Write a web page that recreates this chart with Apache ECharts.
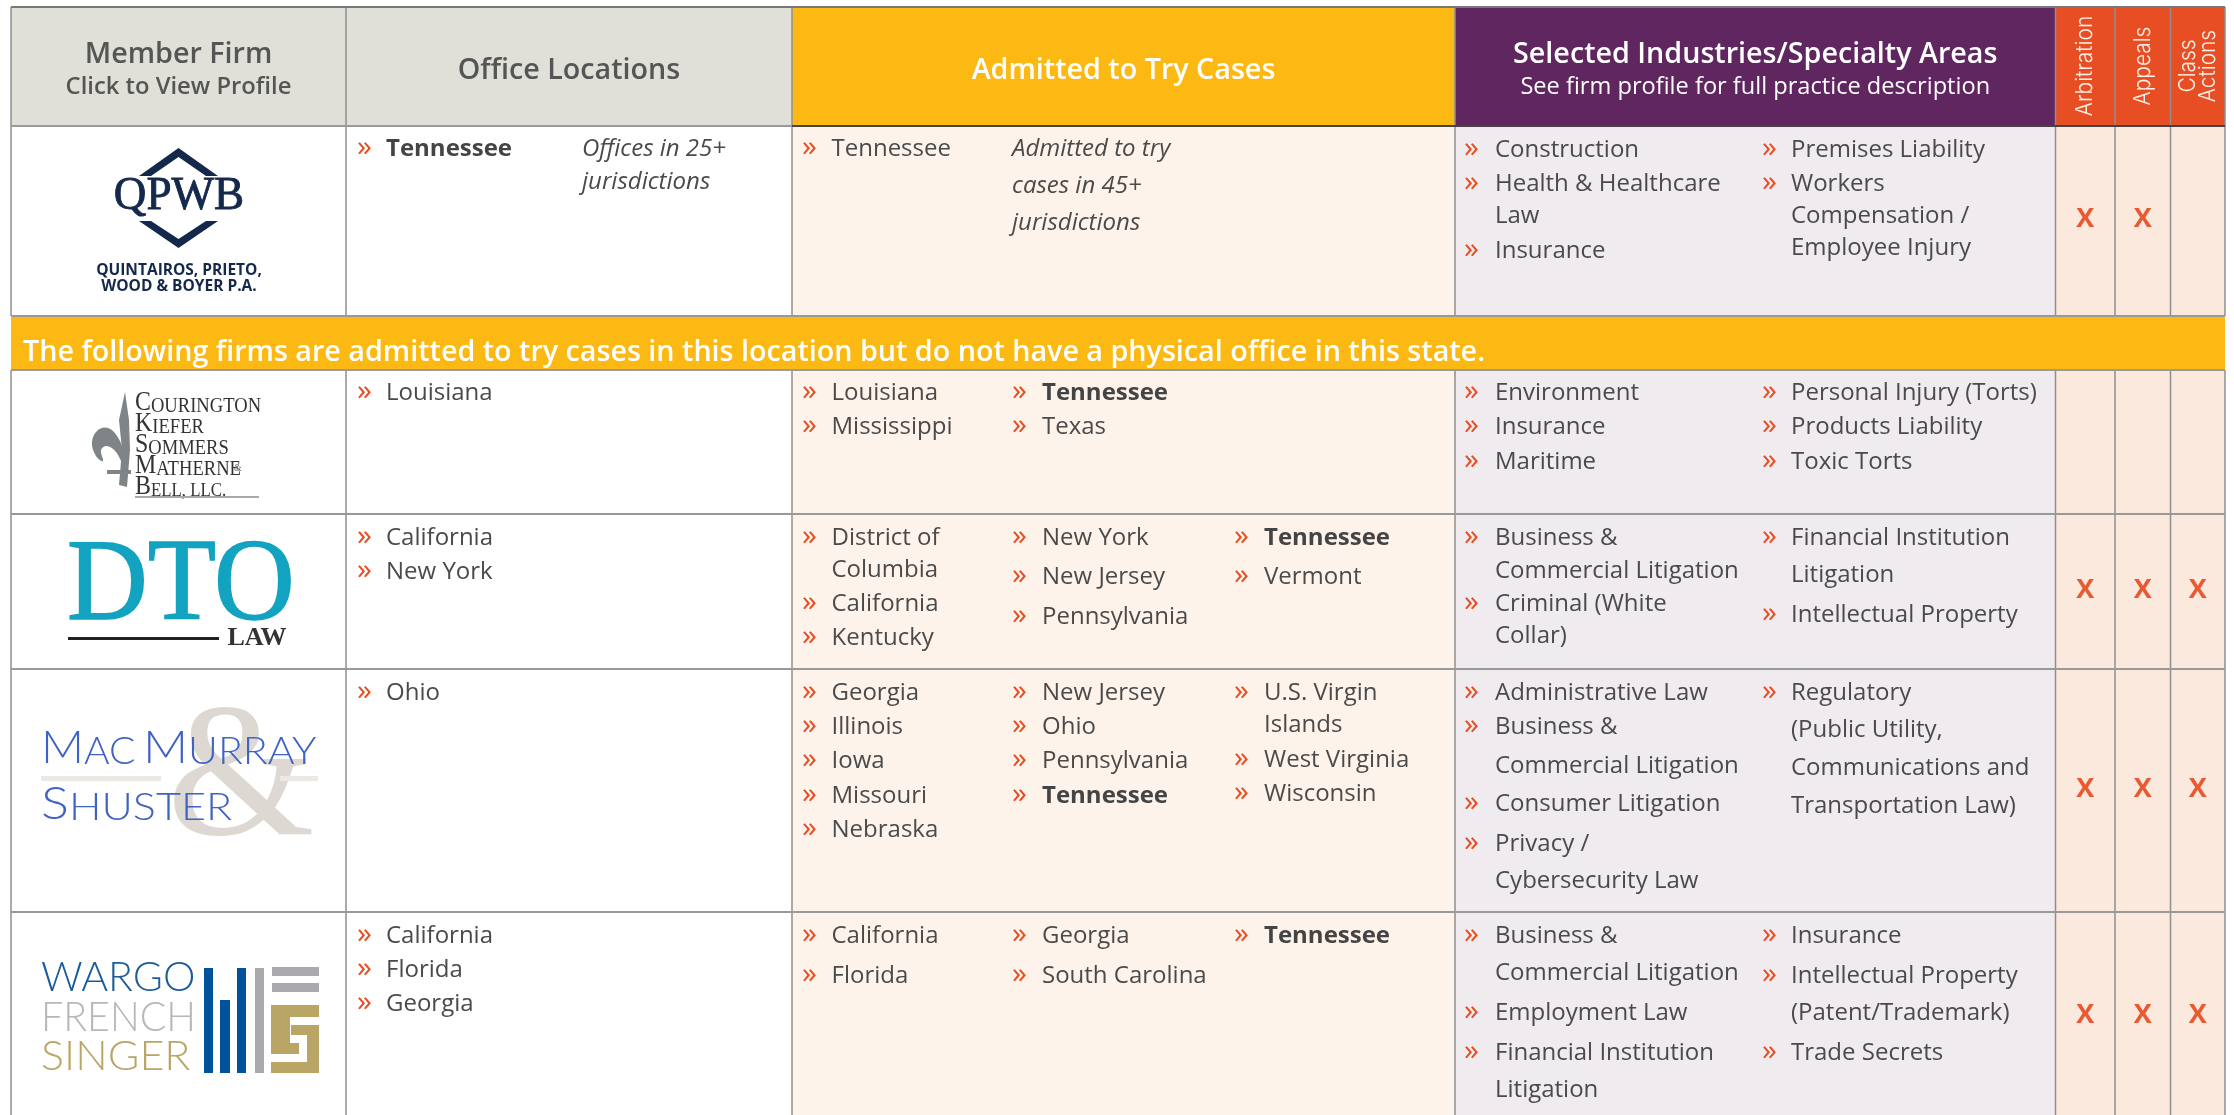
<!DOCTYPE html>
<html><head><meta charset="utf-8">
<style>html,body{margin:0;padding:0;background:#fff}#c{width:2234px;height:1115px}</style>
<script src="https://cdn.jsdelivr.net/npm/echarts@6/dist/echarts.min.js"></script>
</head><body><div id="c"></div>
<script>
// ---------- content ----------
const headerTitles = ['Member Firm','Office Locations','Admitted to Try Cases','Selected Industries/Specialty Areas'];
const headerSubtitles = ['Click to View Profile','See firm profile for full practice description'];
const serviceHeaders = [['Arbitration'],['Appeals'],['Class','Actions']];
const bannerText = 'The following firms are admitted to try cases in this location but do not have a physical office in this state.';
const highlightedState = 'Tennessee';
const officeNote = ['Offices in 25+','jurisdictions'];
const admittedNote = ['Admitted to try','cases in 45+','jurisdictions'];
const officeLocations = [
  ['Tennessee'],['Louisiana'],['California','New York'],['Ohio'],['California','Florida','Georgia']
];
const admittedColA = [
  ['Tennessee'],['Louisiana','Mississippi'],[['District of','Columbia'],'California','Kentucky'],
  ['Georgia','Illinois','Iowa','Missouri','Nebraska'],['California','Florida']
];
const admittedColB = [
  [],['Tennessee','Texas'],['New York','New Jersey','Pennsylvania'],
  ['New Jersey','Ohio','Pennsylvania','Tennessee'],['Georgia','South Carolina']
];
const admittedColC = [
  [],[],['Tennessee','Vermont'],[['U.S. Virgin','Islands'],'West Virginia','Wisconsin'],['Tennessee']
];
const industriesColA = [
  ['Construction',['Health & Healthcare','Law'],'Insurance'],
  ['Environment','Insurance','Maritime'],
  [['Business &','Commercial Litigation'],['Criminal (White','Collar)']],
  ['Administrative Law',['Business &','Commercial Litigation'],'Consumer Litigation',['Privacy /','Cybersecurity Law']],
  [['Business &','Commercial Litigation'],'Employment Law',['Financial Institution','Litigation']]
];
const industriesColB = [
  ['Premises Liability',['Workers','Compensation /','Employee Injury']],
  ['Personal Injury (Torts)','Products Liability','Toxic Torts'],
  [['Financial Institution','Litigation'],'Intellectual Property'],
  [['Regulatory','(Public Utility,','Communications and','Transportation Law)']],
  ['Insurance',['Intellectual Property','(Patent/Trademark)'],'Trade Secrets']
];
const arbitrationFlags = [1,0,1,1,1];
const appealsFlags = [1,0,1,1,1];
const classActionFlags = [0,0,1,1,1];
const flagMark = 'X';

// ---------- layout (pixel scale of the hidden axes) ----------
const W = 2234, H = 1115;
const colX = [11,346,792,1455,2055.5,2115,2170.5,2225];
const rowY = {top:7,head:126,r0:316,band:370,r1:514,r2:669,r3:912,bottom:1115};
const rowBands = [[rowY.head,rowY.r0],[rowY.band,rowY.r1],[rowY.r1,rowY.r2],[rowY.r2,rowY.r3],[rowY.r3,rowY.bottom]];
const GREY='#e0e0d9',YEL='#fdb913',PUR='#5f2660',ORG='#e84e24';
const FS=24, INK='#4a4a4a', SANS='"Open Sans"', DY=1.5;
const lineYs = {
 office:[[148],[392],[537,571],[692],[935,969,1003]],
 aA:[[148],[392,426],[537,569,603,637],[692,726,760,795,829],[935,975]],
 aB:[[],[392,426],[537,576,616],[692,726,760,795],[935,975]],
 aC:[[],[],[537,576],[692,724,759,793],[935]],
 iA:[[149,183,215,250],[392,426,461],[537,570,603,635],[692,726,765,803,843,880],[935,972,1012,1052,1089]],
 iB:[[149,183,215,247],[392,426,461],[537,574,614],[692,729,767,805],[935,975,1012,1052]]
};
const xMarkY = [218,null,589,788,1014];

// ---------- build marks ----------
const cells=[], rules=[], texts=[];
function cell(x0,y0,x1,y1,fill){cells.push([x0,y0,x1,y1,fill]);}
function txt(x,y,text,o){texts.push(Object.assign({x,y,text,size:FS,weight:400,color:INK,align:'left',family:SANS},o||{}));}
cell(colX[0],rowY.top,colX[1],rowY.head,GREY);
cell(colX[1],rowY.top,colX[2],rowY.head,GREY);
cell(colX[2],rowY.top,colX[3],rowY.head,YEL);
cell(colX[3],rowY.top,colX[4],rowY.head,PUR);
cell(colX[4],rowY.top,colX[7],rowY.head,ORG);
rowBands.forEach(b=>{
  cell(colX[2],b[0],colX[3],b[1],'#fef3ea');
  cell(colX[3],b[0],colX[4],b[1],'#efebef');
  cell(colX[4],b[0],colX[7],b[1],'#fbe9dd');
});
cell(colX[0],rowY.r0,colX[7],rowY.band,YEL);
// rules
colX.forEach(x=>{
  rules.push([x,rowY.top,x,rowY.r0,'#8f8f8f',1.5]);
  rules.push([x,rowY.band,x,rowY.bottom,'#8f8f8f',1.5]);
});
rules.push([colX[0],rowY.top,colX[7],rowY.top,'#777777',2]);
[rowY.head,rowY.r0,rowY.band,rowY.r1,rowY.r2,rowY.r3].forEach(y=>rules.push([colX[0],y,colX[7],y,'#999999',2]));
rules.push([colX[2],rowY.head,colX[7],rowY.head,'#444444',2]);

// header text
const HD='#555555', HS=28.7;
txt((colX[0]+colX[1])/2,55,headerTitles[0],{size:HS,weight:600,color:HD,align:'center'});
txt((colX[0]+colX[1])/2,87,headerSubtitles[0],{size:23.8,weight:600,color:HD,align:'center'});
txt((colX[1]+colX[2])/2,71,headerTitles[1],{size:HS,weight:600,color:HD,align:'center'});
txt((colX[2]+colX[3])/2,71,headerTitles[2],{size:HS,weight:600,color:'#fff',align:'center'});
txt((colX[3]+colX[4])/2,55,headerTitles[3],{size:HS,weight:600,color:'#fff',align:'center'});
txt((colX[3]+colX[4])/2,87,headerSubtitles[1],{size:23.6,weight:400,color:'#fff',align:'center'});
// rotated service headers
const ROT={size:23,sx:.91,color:'#fdf0e8',align:'center',rot:Math.PI/2,family:'Inter',weight:300};
txt(2085,66,serviceHeaders[0][0],ROT);
txt(2143,66,serviceHeaders[1][0],ROT);
txt(2188,66,serviceHeaders[2][0],ROT);
txt(2208,66,serviceHeaders[2][1],ROT);
txt(23,353,bannerText,{size:HS,weight:600,color:'#fff'});

const BX=[357,802,1012,1234,1464,1762], TX=[386,831.5,1042,1264,1495,1791];
function place(list,ys,bx,tx,boldOn){
  let k=0;
  list.forEach(item=>{
    const ls=Array.isArray(item)?item:[item];
    txt(bx,ys[k]+DY-2,'»',{color:ORG,size:30});
    ls.forEach(l=>{
      const b=boldOn&&l===highlightedState;
      txt(tx,ys[k]+DY,l,{weight:b?700:400,color:b?'#444444':INK});
      k++;
    });
  });
}
for(let r=0;r<5;r++){
  place(officeLocations[r],lineYs.office[r],BX[0],TX[0],true);
  place(admittedColA[r],lineYs.aA[r],BX[1],TX[1],r>0);
  place(admittedColB[r],lineYs.aB[r],BX[2],TX[2],true);
  place(admittedColC[r],lineYs.aC[r],BX[3],TX[3],true);
  place(industriesColA[r],lineYs.iA[r],BX[4],TX[4],false);
  place(industriesColB[r],lineYs.iB[r],BX[5],TX[5],false);
  [arbitrationFlags,appealsFlags,classActionFlags].forEach((f,i)=>{
    if(f[r]) txt((colX[4+i]+colX[5+i])/2,xMarkY[r]+1,flagMark,{size:27,weight:700,color:'#ea5a32',align:'center'});
  });
}
officeNote.forEach((l,i)=>txt(582,[148,181][i]+DY,l,{style:'italic'}));
admittedNote.forEach((l,i)=>txt(1012,[148,185,222][i]+DY,l,{style:'italic'}));

// ---------- logos ----------
const NAVY='#14284b';
const serif='"Liberation Serif"';
function g_text(x,y,text,size,fill,opt){
  opt=opt||{};
  return Object.assign({type:'text',x,y,z:5,style:Object.assign({text,fill,font:(opt.weight||400)+' '+size+'px '+(opt.family||serif),
    textAlign:opt.align||'center',textVerticalAlign:'middle'},opt.stroke?{stroke:fill,lineWidth:opt.stroke}:{})},opt.scaleX?{scaleX:opt.scaleX}:{});
}
function smallCaps(x,y,big,small,sizeB,sizeS,fill,family,weight,sx){
  return {type:'text',x,y,z:5,scaleX:sx||1,style:{text:'{a|'+big+'}{b|'+small+'}',textAlign:'left',textVerticalAlign:'middle',
    rich:{a:{font:(weight||400)+' '+sizeB+'px '+family,fill,verticalAlign:'bottom'},b:{font:(weight||400)+' '+sizeS+'px '+family,fill,verticalAlign:'bottom'}}}};
}
function rect(x,y,w,h,fill){return {type:'rect',z:5,shape:{x,y,width:w,height:h},style:{fill}};}
function poly(points,fill,smooth){return {type:'polygon',z:4,shape:Object.assign({points},smooth?{smooth}:{}),style:{fill}};}
const FLEUR='#7f8487', BLUE='#3f63c4';
const logos=[
 // QPWB
 poly([[178.5,148],[218,176],[206,176],[178.5,157],[151,176],[139,176]],NAVY),
 poly([[178.5,248],[218,221],[206,221],[178.5,239],[151,221],[139,221]],NAVY),
 g_text(179,197,'QPWB',47,NAVY,{scaleX:.96,stroke:.9}),
 g_text(179,271,'QUINTAIROS, PRIETO,',15.5,NAVY,{weight:700,family:SANS}),
 g_text(179,287,'WOOD & BOYER P.A.',15.5,NAVY,{weight:700,family:SANS}),
 // Courington
 poly([[125,392],[119,420],[122,450],[119,485],[127,487],[130,450],[129,420]],FLEUR),
 poly([[92,442],[98,430],[108,428],[117,436],[123,450],[124,466],[116,452],[107,446],[101,450],[103,461],[96,456]],FLEUR,.4),
 rect(107,470,24,4,FLEUR),
 smallCaps(135,403,'C','OURINGTON',27,21,'#333',serif,400,.885),
 smallCaps(135,424,'K','IEFER',27,21,'#333',serif,400,.885),
 smallCaps(135,445,'S','OMMERS',27,21,'#333',serif,400,.885),
 smallCaps(135,466,'M','ATHERNE',27,21,'#333',serif,400,.885),
 g_text(238,468,'&',10,'#666',{align:'center'}),
 smallCaps(135,487,'B','ELL, LLC.',27,19,'#333',serif,400,.885),
 rect(135,496,124,2,'#aaaaaa'),
 // DTO
 {type:'text',x:67,y:588,z:5,scaleX:.955,style:{text:'DTO',fill:'#12a3c1',stroke:'#12a3c1',lineWidth:1.6,font:'400 117px '+serif,textAlign:'left',textVerticalAlign:'middle'}},
 rect(68,637,151,3,'#222'),
 g_text(257,638,'LAW',26,'#333',{weight:700}),
 // MacMurray & Shuster
 g_text(241,784,'&',190,'#ddd8d2',{family:serif}),
 rect(41,776,120,5,'#ece8e3'),rect(280,776,38,5,'#ece8e3'),
 smallCaps(41,748,'M','AC',46,38,BLUE,'Lato',300,1.03),
 smallCaps(143,748,'M','URRAY',46,38,BLUE,'Lato',300,1.08),
 smallCaps(41,804,'S','HUSTER',46,38,BLUE,'Lato',300,1.135),
 // Wargo French Singer
 g_text(41,978,'WARGO',41,'#1a5c9c',{family:'Lato',weight:300,align:'left',scaleX:1}),
 g_text(41,1018,'FRENCH',41,'#b7b7ba',{family:'Lato',weight:300,align:'left',scaleX:.96}),
 g_text(41,1057,'SINGER',41,'#b9a566',{family:'Lato',weight:300,align:'left',scaleX:1.05}),
 rect(204,968,9,105,'#00539b'),rect(220,1000,10,73,'#00539b'),rect(237,968,9,105,'#00539b'),rect(255,968,9,105,'#a8aaad'),
 rect(272,967,47,9,'#a8aaad'),rect(272,983,47,9,'#a8aaad'),
 poly([[271,1005],[319,1005],[319,1017],[290,1017],[290,1043],[299,1043],[299,1054],[271,1054]],'#b9a566'),
 poly([[291,1025],[319,1025],[319,1073],[271,1073],[271,1062],[307,1062],[307,1035],[291,1035]],'#b9a566')
];

const chart = echarts.init(document.getElementById('c'),null,{renderer:'canvas'});
chart.setOption({
  animation:false,
  backgroundColor:'#ffffff',
  grid:{left:0,right:0,top:0,bottom:0},
  xAxis:{type:'value',min:0,max:W,show:false},
  yAxis:{type:'value',min:0,max:H,inverse:true,show:false},
  graphic:logos,
  series:[
   {type:'custom',coordinateSystem:'cartesian2d',silent:true,z:1,clip:false,data:cells.map(c=>[c[0],c[1]]),
    renderItem(p,api){const c=cells[p.dataIndex];const a=api.coord([c[0],c[1]]),b=api.coord([c[2],c[3]]);
      return {type:'rect',shape:{x:a[0],y:a[1],width:b[0]-a[0],height:b[1]-a[1]},style:{fill:c[4]}};}},
   {type:'custom',coordinateSystem:'cartesian2d',silent:true,z:2,clip:false,data:rules.map(c=>[c[0],c[1]]),
    renderItem(p,api){const c=rules[p.dataIndex];const a=api.coord([c[0],c[1]]),b=api.coord([c[2],c[3]]);
      return {type:'line',shape:{x1:a[0],y1:a[1],x2:b[0],y2:b[1]},style:{stroke:c[4],lineWidth:c[5]}};}},
   {type:'custom',coordinateSystem:'cartesian2d',silent:true,z:3,clip:false,data:texts.map(t=>[t.x,t.y]),
    renderItem(p,api){const t=texts[p.dataIndex];const a=api.coord([t.x,t.y]);
      return {type:'text',x:a[0],y:a[1],rotation:t.rot||0,scaleX:t.sx||1,
        style:{text:t.text,fill:t.color,textAlign:t.align,textVerticalAlign:'middle',
          font:(t.style||'normal')+' '+t.weight+' '+t.size+'px '+t.family}};}}
  ]
});
</script></body></html>
